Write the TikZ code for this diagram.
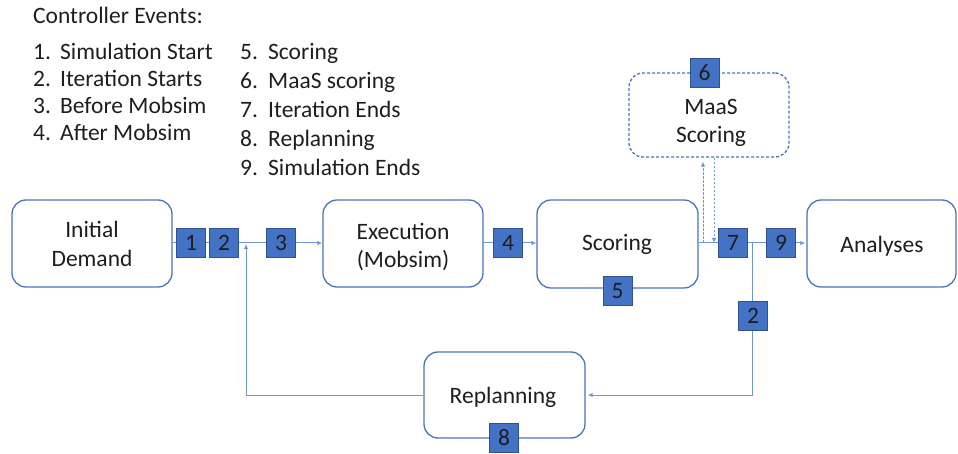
\documentclass[tikz,border=0pt]{standalone}
\usepackage{fontspec}
\setmainfont{Carlito}
\usetikzlibrary{arrows.meta}
\definecolor{evfill}{HTML}{4472C4}
\definecolor{evedge}{HTML}{2F528F}
\definecolor{boxedge}{HTML}{4A74BE}
\definecolor{wirecol}{HTML}{6F97D8}
\definecolor{ink}{HTML}{1E1E1E}

\begin{document}
\begin{tikzpicture}[x=1pt,y=-1pt,
  stage/.style={draw=boxedge, line width=1.3pt, rounded corners=14pt, fill=white,
    align=center, inner sep=0pt, text=ink, font=\fontsize{23.5}{29}\selectfont},
  event/.style={draw=evedge, line width=0.6pt, fill=evfill, minimum size=29pt,
    inner sep=0pt, text=ink, font=\fontsize{23.5}{24}\selectfont},
  wire/.style={draw=wirecol, line width=1pt},
  arr/.style={wire, -{Latex[length=5pt,width=4.5pt]}},
  dwire/.style={wire, line width=0.8pt, dash pattern=on 2.5pt off 1.5pt,
    -{Latex[length=5pt,width=4.5pt]}},
  legend/.style={anchor=base west, inner sep=0pt, text=ink, font=\fontsize{23.5}{27}\selectfont}]

\useasboundingbox (0,0) rectangle (958,454);

% legend of controller events
\node[legend] (title) at (33,24) {Controller Events:};
\node[legend] (l1) at (33,60)  {\makebox[27pt][l]{1.}Simulation Start};
\node[legend] (l2) at (33,87)  {\makebox[27pt][l]{2.}Iteration Starts};
\node[legend] (l3) at (33,114) {\makebox[27pt][l]{3.}Before Mobsim};
\node[legend] (l4) at (33,141) {\makebox[27pt][l]{4.}After Mobsim};
\node[legend] (l5) at (240,60)  {\makebox[28pt][l]{5.}Scoring};
\node[legend] (l6) at (240,89)  {\makebox[28pt][l]{6.}MaaS scoring};
\node[legend] (l7) at (240,118) {\makebox[28pt][l]{7.}Iteration Ends};
\node[legend] (l8) at (240,147) {\makebox[28pt][l]{8.}Replanning};
\node[legend] (l9) at (240,176) {\makebox[28pt][l]{9.}Simulation Ends};

% process stages (the rounded frames; captions are placed separately)
\node[stage, minimum width=160pt, minimum height=87pt] (init) at (92,243.5) {};
\node[stage, minimum width=160pt, minimum height=87pt] (exec) at (403,243.5) {};
\node[stage, minimum width=161pt, minimum height=88pt] (score) at (617.5,244) {};
\node[stage, minimum width=149pt, minimum height=87pt] (ana) at (881.5,243.5) {};
\node[stage, minimum width=161pt, minimum height=86pt] (replan) at (504.5,395) {};
\node[stage, dash pattern=on 3pt off 2pt, minimum width=160pt, minimum height=84pt] (maas) at (709,115) {};

% stage captions
\tikzset{caption/.style={align=center, inner sep=0pt, text=ink, font=\fontsize{23.5}{28.5}\selectfont}}
\node[caption] (initt) at (92,244) {Initial\\Demand};
\node[caption] (exect) at (403,247) {Execution\\(Mobsim)};
\node[caption] (scoret) at (617,244) {Scoring};
\node[caption] (anat) at (882,246) {Analyses};
\node[caption] (replant) at (503,397) {Replanning};
\node[caption] (maast) at (711,123) {MaaS\\Scoring};

% junction points on the connectors
\coordinate (jl) at (246,243);
\coordinate (jr) at (752,243);
\coordinate (mu) at (703,243);
\coordinate (md) at (714,243);

% connectors along the main line
\draw[wire] (init.east |- jl) -- (jl);
\draw[arr] (jl) -- (exec.west |- jl);
\draw[arr] (exec.east |- jl) -- (score.west |- jl);
\draw[wire] (score.east |- jr) -- (jr);
\draw[arr] (jr) -- ([xshift=-1pt]ana.west |- jr);

% replanning loop
\draw[arr, shorten >=2pt] (jr) |- (replan.east);
\draw[arr, shorten >=1pt] (replan.west) -| (jl);

% MaaS scoring exchange
\draw[dwire, shorten >=4pt] (mu) -- (mu |- maas.south);
\draw[dwire] ([xshift=11pt]mu |- maas.south) -- (md);

% event markers
\node[event] (e1) at (191,243) {1};
\node[event] (e2) at (224,243) {2};
\node[event] (e3) at (281,243) {3};
\node[event] (e4) at (508,243) {4};
\node[event] (e5) at (617.5,291) {5};
\node[event] (e6) at (704.5,73) {6};
\node[event] (e7) at (733,243) {7};
\node[event] (e9) at (781,243) {9};
\node[event] (e2b) at (753,316) {2};
\node[event] (e8) at (504,438) {8};
\end{tikzpicture}
\end{document}
